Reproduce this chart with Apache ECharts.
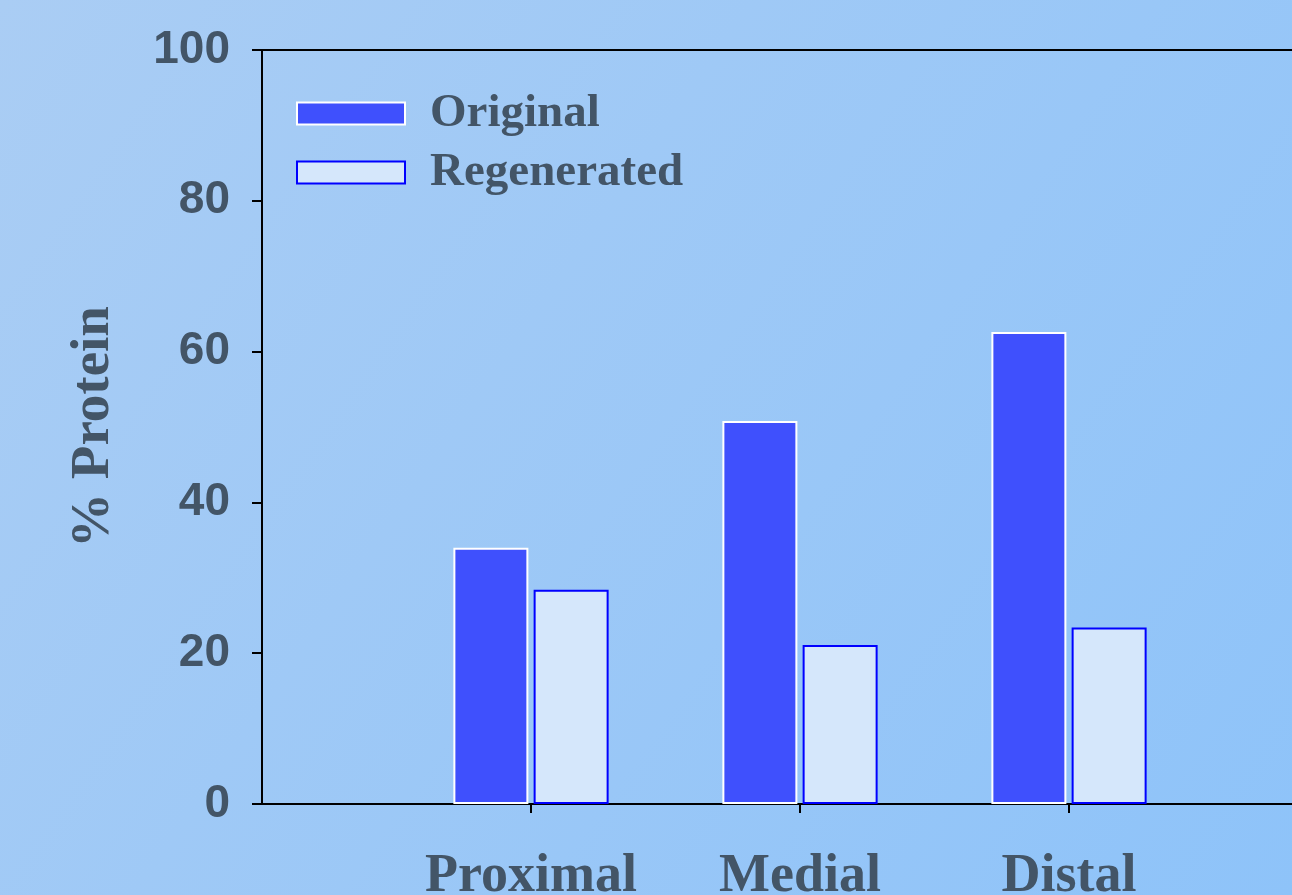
<!DOCTYPE html>
<html>
<head>
<meta charset="utf-8">
<script src="https://cdn.jsdelivr.net/npm/echarts@6/dist/echarts.min.js"></script>
<style>
  html, body { margin: 0; padding: 0; }
  #chart { width: 1292px; height: 895px; }
</style>
</head>
<body>
<div id="chart"></div>
<script>
// empty slots at both ends so the groups sit where the original puts them
const categories = ["", "Proximal", "Medial", "Distal", ""];
const original = ["-", 34.0, 50.8, 62.6, "-"];
const regenerated = ["-", 28.4, 21.1, 23.4, "-"];
const yTicks = [0, 20, 40, 60, 80, 100];

const textColor = "#435567";
const serif = "'Liberation Serif', 'Times New Roman', serif";
const sans = "'Liberation Sans', Arial, sans-serif";

const chart = echarts.init(document.getElementById("chart"));

chart.setOption({
  animation: false,
  backgroundColor: {
    type: "linear", x: 0, y: 0, x2: 1, y2: 1,
    colorStops: [
      { offset: 0, color: "#aacdf4" },
      { offset: 1, color: "#8ec3f9" },
    ],
  },
  legend: {
    orient: "vertical",
    left: 296,
    top: 90,
    padding: 0,
    itemWidth: 108,
    itemHeight: 22,
    itemGap: 12,
    icon: "rect",
    data: ["Original", "Regenerated"],
    textStyle: {
      fontFamily: serif,
      fontWeight: "bold",
      fontSize: 47,
      color: textColor,
      padding: [0, 0, 0, 20],
    },
  },
  grid: { left: 262, top: 50, width: 1076, height: 754, outerBoundsMode: "none" },
  xAxis: [
    {
      type: "category",
      data: categories,
      boundaryGap: false,
      axisLine: { lineStyle: { color: "#000", width: 2 } },
      axisTick: {
        length: 9,
        lineStyle: { color: "#000", width: 2 },
        interval: (i, v) => v !== "",
      },
      axisLabel: {
        interval: 0,
        margin: 46,
        fontFamily: serif,
        fontWeight: "bold",
        fontSize: 54,
        color: textColor,
      },
      splitLine: { show: false },
    },
    {
      type: "category",
      data: categories,
      position: "top",
      boundaryGap: false,
      axisLine: { lineStyle: { color: "#000", width: 2 } },
      axisTick: { show: false },
      axisLabel: { show: false },
    },
  ],
  yAxis: {
    type: "value",
    min: 0,
    max: 100,
    interval: 20,
    name: "% Protein",
    nameLocation: "middle",
    nameRotate: 90,
    nameGap: 141,
    nameTextStyle: {
      fontFamily: serif,
      fontWeight: "bold",
      fontSize: 55,
      color: textColor,
    },
    axisLine: { show: true, lineStyle: { color: "#000", width: 2 } },
    axisTick: { show: true, length: 10, lineStyle: { color: "#000", width: 2 } },
    axisLabel: {
      margin: 32,
      fontFamily: sans,
      fontWeight: "bold",
      fontSize: 46,
      color: textColor,
      formatter: (v) => (yTicks.includes(v) ? String(v) : ""),
    },
    splitLine: { show: false },
  },
  series: [
    {
      name: "Original",
      type: "bar",
      data: original,
      barWidth: 75,
      barGap: "7%",
      itemStyle: { color: "#3f50fd", borderColor: "#ffffff", borderWidth: 2 },
    },
    {
      name: "Regenerated",
      type: "bar",
      data: regenerated,
      barWidth: 75,
      itemStyle: { color: "#d5e7fb", borderColor: "#0000ff", borderWidth: 2 },
    },
  ],
});
</script>
</body>
</html>
